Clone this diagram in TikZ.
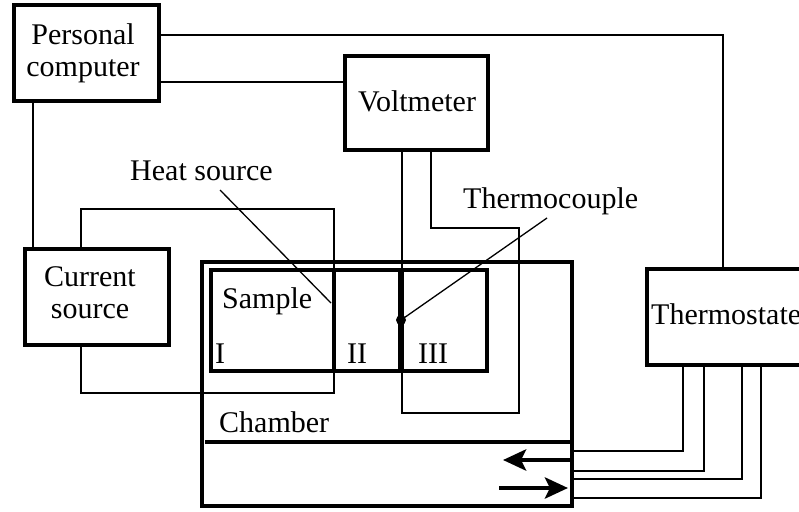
\documentclass[tikz,border=0pt]{standalone}
\usepackage{fontspec}
\setmainfont{Liberation Serif}
\usetikzlibrary{arrows.meta}
\begin{document}
\begin{tikzpicture}[x=1pt,y=-1pt,
  box/.style={draw,line width=4pt,inner sep=0pt,fill=none},
  txt/.style={font=\fontsize{30}{32}\selectfont,inner sep=0pt,anchor=base west},
  txtc/.style={font=\fontsize{30}{32}\selectfont,inner sep=0pt,align=center},
  wire/.style={line width=1.7pt},
  wirem/.style={line width=2.4pt},
  pointer/.style={line width=1.3pt},
  divider/.style={line width=4pt},
  flow/.style={line width=4.5pt,-{Stealth[length=23pt,width=21pt,inset=5pt]}}]
\useasboundingbox (0,0) rectangle (799,511);
% boxes
\node[box,minimum width=370pt,minimum height=244pt] (ch) at (387,384) {};
\node[box,minimum width=276pt,minimum height=101pt] (sa) at (349,320.5) {};
\node[box,minimum width=145pt,minimum height=96pt] (pc) at (86.5,53) {};
\node[box,minimum width=143pt,minimum height=94pt] (vm) at (416.5,103) {};
\node[box,minimum width=144pt,minimum height=96pt] (cs) at (97,297) {};
\node[box,minimum width=158pt,minimum height=96pt] (ts) at (726,317) {};
% texts
\node[txtc] (pct) at (83,53) {Personal\\computer};
\node[txtc] (cst) at (90,293) {Current\\source};
\node[txt] (vmt) at (358,111) {Voltmeter};
\node[txt] (tst) at (651,324) {Thermostate};
\node[txt] (sat) at (222,308) {Sample};
\node[txt] (r1) at (215,363) {I};
\node[txt] (r2) at (347,363) {II};
\node[txt] (r3) at (418,363) {III};
\node[txt] (cht) at (219,432) {Chamber};
\node[txt] (hst) at (130,180) {Heat source};
\node[txt] (tct) at (463,208) {Thermocouple};
% PC connections
\coordinate (c1) at (723,35);
\draw[wire] (pc.east |- c1) -- (c1) -- (ts.north -| c1);
\coordinate (c2) at (0,82);
\draw[wirem] (pc.east |- c2) -- (vm.west |- c2);
\draw[wirem] (pc.south -| 33,0) -- (cs.north -| 33,0);
% heat source loop
\draw[wire] (cs.north -| 81,0) -- (81,209) -- (334,209) -- (334,393) -- (81,393) -- (cs.south -| 81,0);
\draw[divider] (sa.north -| 334,0) -- (sa.south -| 334,0);
% thermocouple loop
\draw[wire] (vm.south -| 402,0) -- (402,413) -- (519,413) -- (519,228) -- (431,228) -- (vm.south -| 431,0);
\draw[line width=6pt] (sa.north -| 401,0) -- (sa.south -| 401,0);
\node[circle,fill,inner sep=0pt,minimum size=10pt] (tc) at (401,320) {};
% pointers
\coordinate (hsp) at (220,190);
\coordinate (hse) at (331,303);
\draw[pointer] (hsp) -- (hse);
\coordinate (tcp) at (547,218);
\draw[pointer] (tcp) -- (tc.center);
% chamber divider and flow arrows
\draw[divider] (205,442) -- (ch.east |- 0,442);
\draw[flow] (ch.east |- 0,460) ++(-2,0) -- (503,460);
\draw[flow] (499,488) -- (568,488);
% thermostate pipes
\foreach \px/\py in {683/451,704/471,742/479,761/498}{
  \draw[wire] (ts.south -| \px,0) |- (ch.east |- 0,\py);
}
\end{tikzpicture}
\end{document}
